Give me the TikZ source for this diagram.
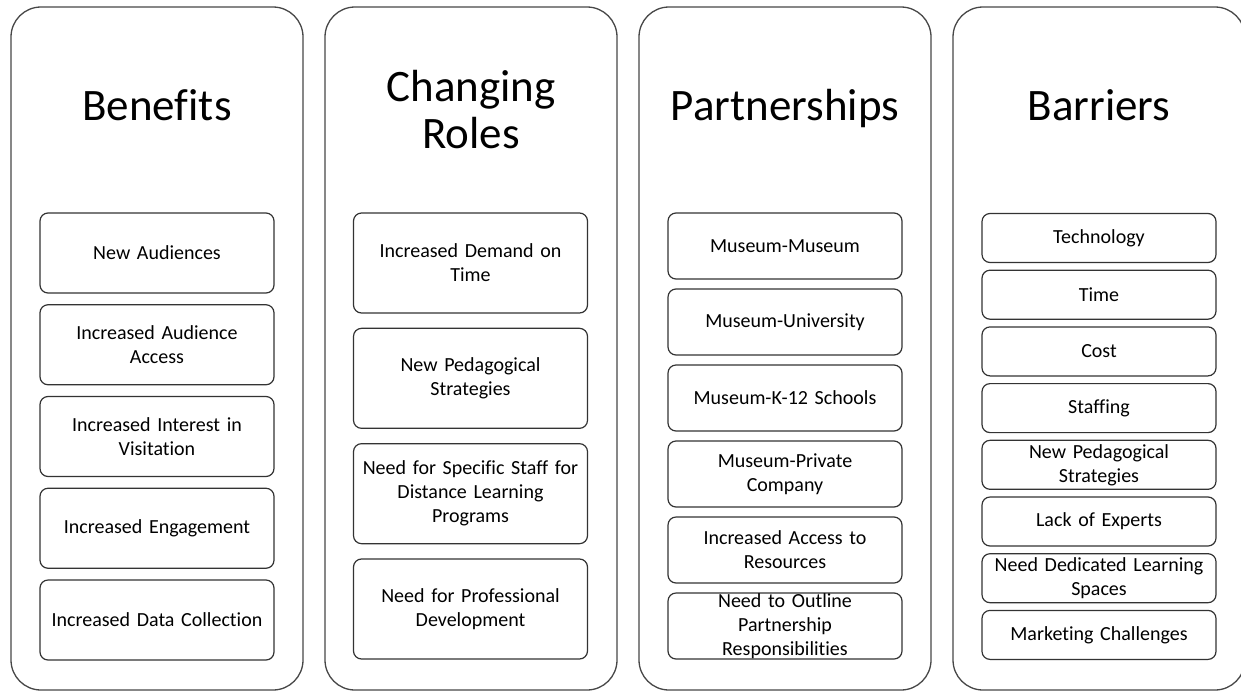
\documentclass[tikz,border=0pt]{standalone}
\usepackage{fontspec}
\setmainfont{Carlito}[Ligatures=NoCommon]
\usetikzlibrary{positioning}

\tikzset{
    column/.style={draw=black!72, line width=1.3pt, rounded corners=30pt,
        minimum width=292pt, minimum height=683pt, inner sep=0pt},
    title/.style={font=\fontsize{45}{47}\selectfont, align=center, inner sep=0pt},
    item/.style={draw=black!80, line width=1.2pt, rounded corners=8pt,
        minimum width=234pt, text width=230pt, align=center, inner sep=0pt,
        font=\fontsize{20}{24}\selectfont},
}

\begin{document}
\begin{tikzpicture}[x=1pt, y=-1pt]
\useasboundingbox (0, 0) rectangle (1241, 691);
\clip (0, 0) rectangle (1241, 691);

% the four columns
\path (157, 348.5) node[column] (col-1) {};
\path (471, 348.5) node[column] (col-2) {};
\path (785, 348.5) node[column] (col-3) {};
\path (1099, 348.5) node[column] (col-4) {};

\path (157, 120) node[title, anchor=base] (ben) {Benefits};
\path (471, 110) node[title] (roles) {Changing\\Roles};
\path (785, 120) node[title, anchor=base] (part) {Partnerships};
\path (1099, 120) node[title, anchor=base] (bar) {Barriers};

% benefits
\foreach \txt [count=\i] in {New Audiences, {Increased Audience\\Access},
    {Increased Interest in\\Visitation}, Increased Engagement,
    Increased Data Collection}
    \path (157, 253+91.75*\i-91.75) node[item, minimum height=80pt] (ben-\i) {\txt};

% changing roles
\foreach \txt [count=\i] in {{Increased Demand on\\Time}, {New Pedagogical\\Strategies},
    {Need for Specific Staff for\\Distance Learning\\Programs},
    {Need for Professional\\Development}}
    \path (470.5, 263+115.33*\i-115.33) node[item, minimum height=100pt] (role-\i) {\txt};

% partnerships
\foreach \txt [count=\i] in {Museum-Museum, Museum-University, Museum-K-12 Schools,
    {Museum-Private\\Company}, {Increased Access to\\Resources},
    {Need to Outline\\Partnership\\Responsibilities}}
    \path (785, 246+76*\i-76) node[item, minimum height=66pt] (part-\i) {\txt};

% barriers
\foreach \txt [count=\i] in {Technology, Time, Cost, Staffing,
    {New Pedagogical\\Strategies}, Lack of Experts,
    {Need Dedicated Learning\\Spaces}, Marketing Challenges}
    \path (1099, 238+56.7*\i-56.7) node[item, minimum height=49pt] (bar-\i) {\txt};
\end{tikzpicture}
\end{document}
